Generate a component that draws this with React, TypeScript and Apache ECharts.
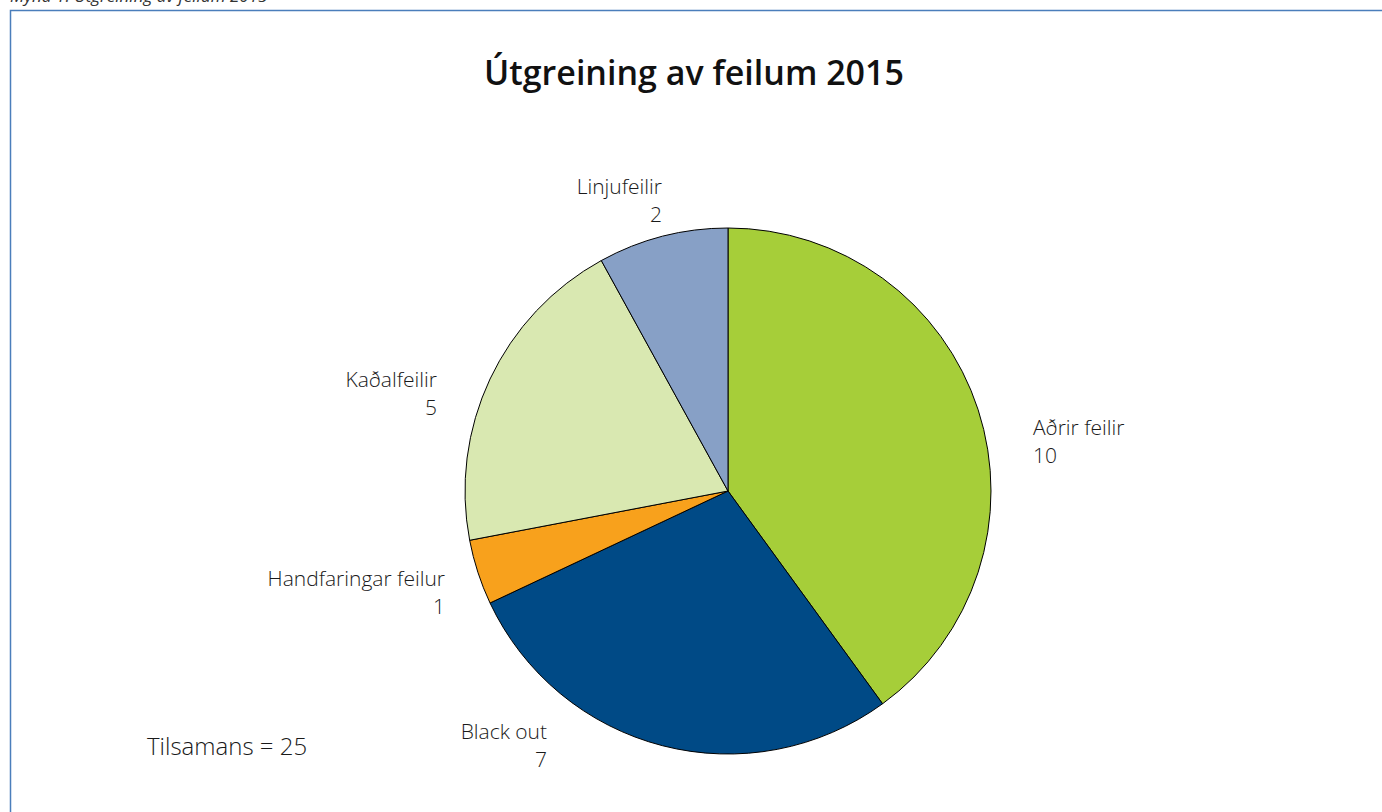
import React, { useEffect, useRef } from "react";
import * as echarts from "echarts";

const categories = ["Aðrir feilir", "Black out", "Handfaringar feilur", "Kaðalfeilir", "Linjufeilir"];
const values = [10, 7, 1, 5, 2];
const colors = ["#a6ce39", "#004a86", "#f8a11c", "#d9e8b1", "#87a0c6"];
const captionText = "Mynd 1: Útgreining av feilum 2015";
const titleText = "Útgreining av feilum 2015";
const totalLabel = "Tilsamans";

// label placement (layout, px)
const labelPlace = [
  { x: 1033, y: 441, align: "left" },
  { x: 547, y: 745, align: "right" },
  { x: 445, y: 592, align: "right" },
  { x: 437, y: 393, align: "right" },
  { x: 662, y: 200, align: "right" },
];

const FONT = "'Open Sans', 'Noto Sans', sans-serif";

export default function App() {
  const ref = useRef<HTMLDivElement>(null);
  useEffect(() => {
    if (!ref.current) return;
    const chart = echarts.init(ref.current, undefined, { renderer: "svg" });
    const total = values.reduce((a, b) => a + b, 0);
    chart.setOption({
      animation: false,
      backgroundColor: "#ffffff",
      title: {
        text: titleText,
        left: 689,
        top: 50,
        textAlign: "center",
        textStyle: { fontFamily: FONT, fontSize: 34, fontWeight: 600, color: "#111" },
      },
      graphic: [
        {
          type: "rect",
          shape: { x: 10.5, y: 10.5, width: 1400, height: 830 },
          style: { fill: "none", stroke: "#4a7ebb", lineWidth: 1.5 },
          silent: true,
        },
        {
          type: "text",
          x: 10,
          y: 4,
          style: {
            text: captionText,
            fontFamily: FONT,
            fontSize: 17,
            fontStyle: "italic",
            fill: "#333",
            textVerticalAlign: "bottom",
          },
        },
        {
          type: "text",
          x: 147,
          y: 745,
          style: {
            text: `${totalLabel} = ${total}`,
            fontFamily: FONT,
            fontSize: 24,
            fontWeight: 300,
            fill: "#1a1a1a",
            textVerticalAlign: "middle",
          },
        },
      ],
      series: [
        {
          type: "pie",
          center: [728, 491],
          radius: 263,
          startAngle: 90,
          clockwise: true,
          silent: true,
          itemStyle: { borderColor: "#000", borderWidth: 1 },
          label: {
            show: true,
            position: "outside",
            formatter: "{b}\n{c}",
            fontFamily: FONT,
            fontSize: 21,
            fontWeight: 300,
            lineHeight: 28,
            color: "#1a1a1a",
          },
          labelLine: { show: false },
          labelLayout: (p: any) => {
            const pl = labelPlace[p.dataIndex];
            return { x: pl.x, y: pl.y, align: pl.align, verticalAlign: "middle" };
          },
          data: categories.map((c, i) => ({ name: c, value: values[i], itemStyle: { color: colors[i] } })),
        },
      ],
    });
    return () => chart.dispose();
  }, []);
  return <div ref={ref} style={{ position: "absolute", left: 0, top: 0, width: 1382, height: 812 }} />;
}
